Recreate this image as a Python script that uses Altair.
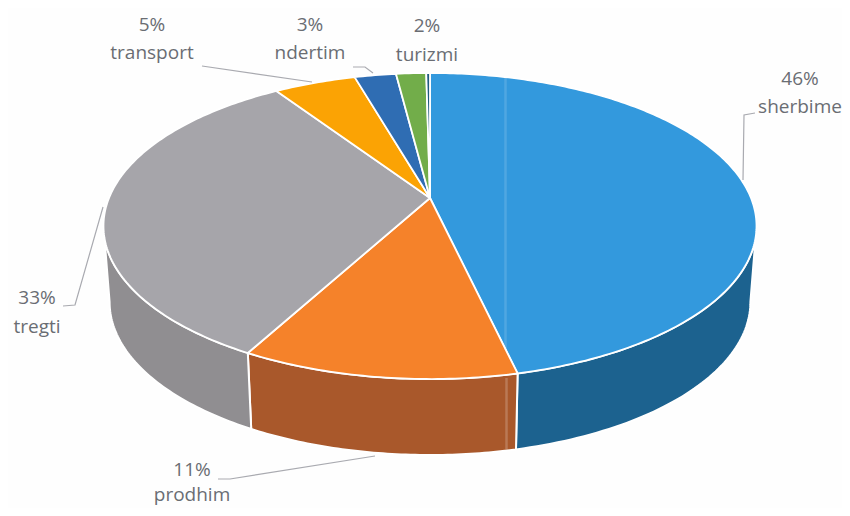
import math
import altair as alt
import pandas as pd

names = ["sherbime", "prodhim", "tregti", "transport", "ndertim", "turizmi", "tjeter"]
shares = [46.4, 11.5, 32.8, 4.85, 2.45, 1.78, 0.22]
top_colors = ["#3399dd", "#f5822a", "#a6a5aa", "#fba304", "#2f6db3", "#72ad4a", "#1f5a80"]
wall_colors = ["#1c628f", "#a9582b", "#908e91"]
pct_labels = ["46%", "11%", "33%", "5%", "3%", "2%"]
label_names = ["sherbime", "prodhim", "tregti", "transport", "ndertim", "turizmi"]
label_x = [800, 192, 37, 152, 310, 427]
pct_y = [79, 470, 298, 25, 25, 26]
name_y = [107, 495, 327, 53, 53, 55]
leaders = [
    [(755, 113), (744, 115), (743, 180)],
    [(218, 479), (230, 479), (375, 456)],
    [(63, 306), (75, 305), (103, 207)],
    [(202, 66), (312, 82)],
    [(353, 67), (365, 67), (373, 73)],
]
seams = [(505.5, 74, 350, 0.14), (506.5, 378, 449, 0.2)]

CX, CY, PERSP, K = 430, 198, 0.183, 147.9
M_TOP, M_BOT, DEPTH = 321, 315, 76


def pt(theta, m=M_TOP, dy=0.0):
    u = math.sin(math.radians(theta))
    v = math.cos(math.radians(theta))
    d = 1 + PERSP * v
    return CX + m * u / d, CY + dy - K * v / d


x_scale = alt.Scale(domain=[8, 842], range=[0, 834])
y_scale = alt.Scale(domain=[8, 508], range=[0, 500])
X = alt.X("x:Q", scale=x_scale, axis=None)
Y = alt.Y("y:Q", scale=y_scale, axis=None)


def poly(vertices, fill, stroke="#ffffff", sw=2.0):
    rows = [{"x": a, "y": b, "i": i} for i, (a, b) in enumerate(list(vertices) + [vertices[0]])]
    return alt.Chart(pd.DataFrame(rows)).mark_line(
        fill=fill, stroke=stroke, strokeWidth=sw, strokeJoin="round"
    ).encode(x=X, y=Y, order="i:Q")


bounds = [0.0]
for s in shares:
    bounds.append(bounds[-1] + s * 3.6)

layers = []
wall_lo, wall_hi = 100.5, 259.5
for k, col in enumerate(wall_colors):
    a = max(bounds[k], wall_lo)
    b = min(bounds[k + 1], wall_hi)
    ths = [a + (b - a) * j / 60 for j in range(61)]
    verts = [pt(t) for t in ths] + [pt(t, M_BOT, DEPTH) for t in reversed(ths)]
    layers.append(poly(verts, col))

for k, col in enumerate(top_colors):
    a, b = bounds[k], bounds[k + 1]
    n = max(3, int((b - a) * 1.2))
    verts = [(CX, CY)] + [pt(a + (b - a) * j / n) for j in range(n + 1)]
    layers.append(poly(verts, col, sw=1.8))

for sx, y1, y2, op in seams:
    d = pd.DataFrame({"x": [sx], "y": [y1], "y2": [y2]})
    layers.append(
        alt.Chart(d).mark_rule(color="#ffffff", opacity=op, strokeWidth=2.5).encode(x=X, y=Y, y2="y2:Q")
    )

for line in leaders:
    d = pd.DataFrame([{"x": p[0], "y": p[1], "i": i} for i, p in enumerate(line)])
    layers.append(
        alt.Chart(d).mark_line(stroke="#a9aab0", strokeWidth=1.2).encode(x=X, y=Y, order="i:Q")
    )

lab = pd.DataFrame(
    {
        "t": pct_labels + label_names,
        "x": label_x + label_x,
        "y": pct_y + name_y,
    }
)
layers.append(
    alt.Chart(lab).mark_text(font="Open Sans", fontSize=19, color="#6a6d73", align="center", baseline="middle").encode(
        x=X, y=Y, text="t:N"
    )
)

chart = alt.layer(*layers).properties(
    width=834,
    height=500,
    autosize=alt.AutoSizeParams(type="none"),
    padding=0,
    background="#fefefe",
).configure_view(stroke=None)

chart.save("out.html", embed_options={"renderer": "svg", "actions": False})
